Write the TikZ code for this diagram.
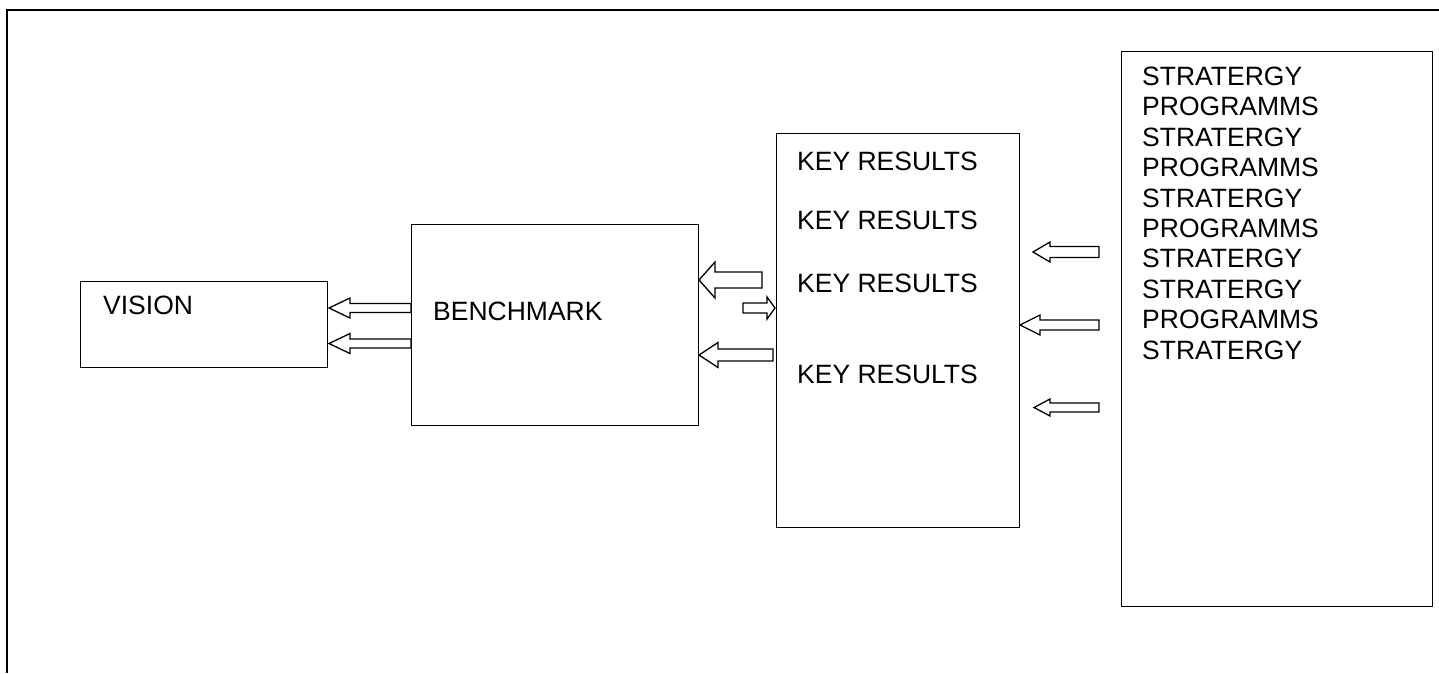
\documentclass[tikz,border=0pt]{standalone}
\usepackage{fontspec}
\setmainfont{Liberation Sans}
\newcommand\blkarr[6]{% tail x, tip x, y, half shaft, half head, head-back x
  \draw[blk] (#1,#3-#4) -- (#6,#3-#4) -- (#6,#3-#5) -- (#2,#3) -- (#6,#3+#5) -- (#6,#3+#4) -- (#1,#3+#4) -- cycle;}
\begin{document}
\begin{tikzpicture}[x=1pt,y=-1pt,
  box/.style={draw,line width=1.3pt,anchor=north west,inner sep=0pt},
  lbl/.style={anchor=base west,inner sep=0pt,font=\fontsize{26.5}{30.4}\selectfont},
  blk/.style={draw,line width=1.3pt,fill=white,line join=miter},
  frame/.style={line width=1.8pt}]
\useasboundingbox (0,0) rectangle (1439,673);
\fill[white] (0,0) rectangle (1439,673);
% outer frame
\coordinate (fbl) at (7,673);
\coordinate (ftl) at (7,10);
\coordinate (ftr) at (1439,10);
\draw[frame] (fbl) -- (ftl) -- (ftr);
% boxes
\node[box,minimum width=247pt,minimum height=86pt] (vision) at (80,281) {};
\node[box,minimum width=287pt,minimum height=201pt] (bench) at (411,224) {};
\node[box,minimum width=243pt,minimum height=394pt] (kr) at (776,133) {};
\node[box,minimum width=311pt,minimum height=555pt] (strat) at (1121,51) {};
% labels
\node[lbl] (tvision) at (103,314) {VISION};
\node[lbl] (tbench) at (433,320) {BENCHMARK};
\node[lbl] (tkr1) at (797,170.5) {KEY RESULTS};
\node[lbl] (tkr2) at (797,229.5) {KEY RESULTS};
\node[lbl] (tkr3) at (797,292) {KEY RESULTS};
\node[lbl] (tkr4) at (797,383) {KEY RESULTS};
\foreach \t [count=\i] in {STRATERGY,PROGRAMMS,STRATERGY,PROGRAMMS,STRATERGY,PROGRAMMS,STRATERGY,STRATERGY,PROGRAMMS,STRATERGY}
  \node[lbl] (ts\i) at (1142,{85.5+(\i-1)*30.4}) {\t};
% block arrows
\blkarr{411}{329}{308}{4.5}{10}{350}
\blkarr{411}{329}{343.5}{4.5}{10}{350}
\blkarr{762}{699}{280}{8}{18}{715}
\blkarr{743}{775}{308}{5}{11}{767}
\blkarr{773}{699}{355}{6}{12.5}{718}
\blkarr{1099}{1033}{252}{5.5}{10}{1050}
\blkarr{1099}{1020}{325}{5}{10}{1040}
\blkarr{1099}{1034}{407.5}{4.5}{8.5}{1050}
\end{tikzpicture}
\end{document}
